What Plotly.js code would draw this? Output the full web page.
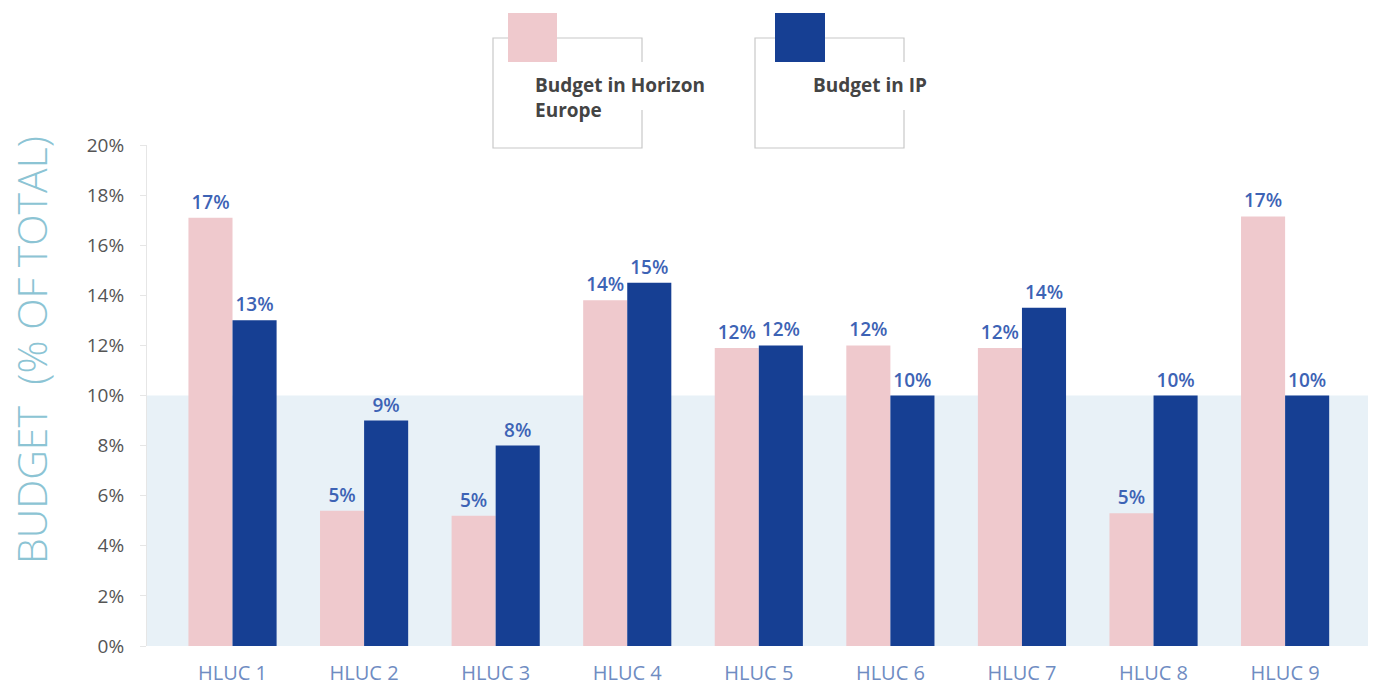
<!DOCTYPE html>
<html>
<head>
<meta charset="utf-8">
<script src="https://cdn.plot.ly/plotly-3.0.1.min.js"></script>
<style>
  html, body { margin: 0; padding: 0; background: #fff; }
  #chart { width: 1374px; height: 687px; }
</style>
</head>
<body>
<div id="chart"></div>
<script>
// data (% of total budget)
const categories = ['HLUC 1','HLUC 2','HLUC 3','HLUC 4','HLUC 5','HLUC 6','HLUC 7','HLUC 8','HLUC 9'];
const horizonEurope = [17.1, 5.4, 5.2, 13.8, 11.9, 12.0, 11.9, 5.3, 17.15];
const ip = [13.0, 9.0, 8.0, 14.5, 12.0, 10.0, 13.5, 10.0, 10.0];
const yTicks = [0, 2, 4, 6, 8, 10, 12, 14, 16, 18, 20];
const shadeTop = 10;

const pink = '#efc9cd';
const navy = '#163f93';
const labelBlue = '#3d63b5';

// plot area in pixels
const L = 147, R = 6, T = 145, B = 41, W = 1374, H = 687;
const pw = W - L - R, ph = H - T - B;
const px = x => (x - L) / pw;          // pixel -> paper x
const py = y => (H - B - y) / ph;      // pixel -> paper y

const label = v => Math.round(v) + '%';

const labelFont = {color: labelBlue, size: 19, family: 'Open Sans', weight: 600};

const traces = [
  {
    type: 'bar', name: 'Budget in Horizon Europe',
    x: categories, y: horizonEurope,
    marker: {color: pink},
    text: horizonEurope.map(label), textposition: 'outside',
    textfont: labelFont, cliponaxis: false, hoverinfo: 'x+y'
  },
  {
    type: 'bar', name: 'Budget in IP',
    x: categories, y: ip,
    marker: {color: navy},
    text: ip.map(label), textposition: 'outside',
    textfont: labelFont, cliponaxis: false, hoverinfo: 'x+y'
  }
];

// legend boxes drawn by hand
function legendBox(x0, x1, y0, y1, gapTop, gapBot, sqX0, sqX1, sqY0, sqY1, color) {
  const line = {color: '#c8c8c8', width: 1.2};
  return [
    {type: 'path', xref: 'paper', yref: 'paper', line,
     path: `M${px(x1)},${py(gapTop)} L${px(x1)},${py(y0)} L${px(x0)},${py(y0)} L${px(x0)},${py(y1)} L${px(x1)},${py(y1)} L${px(x1)},${py(gapBot)}`},
    {type: 'rect', xref: 'paper', yref: 'paper', line: {width: 0}, fillcolor: color,
     x0: px(sqX0), x1: px(sqX1), y0: py(sqY0), y1: py(sqY1)}
  ];
}

const shapes = [
  {type: 'rect', xref: 'paper', yref: 'y', x0: 0, x1: 1, y0: 0, y1: shadeTop,
   fillcolor: '#e8f1f7', line: {width: 0}, layer: 'below'},
  ...legendBox(493, 642, 38, 148, 62, 110, 508, 557, 13, 62, pink),
  ...legendBox(755, 904, 38, 148, 62, 110, 775, 825, 13, 62, navy)
];

const annotations = [
  {xref: 'paper', yref: 'paper', x: px(533), y: py(98), xanchor: 'left', yanchor: 'middle', align: 'left',
   showarrow: false, text: '<b>Budget in Horizon<br>Europe</b>',
   font: {family: 'Open Sans', size: 19, color: '#444'}},
  {xref: 'paper', yref: 'paper', x: px(811), y: py(85), xanchor: 'left', yanchor: 'middle',
   showarrow: false, text: '<b>Budget in IP</b>',
   font: {family: 'Open Sans', size: 19, color: '#444'}},
  {xref: 'paper', yref: 'paper', x: px(31), y: py(350), xanchor: 'center', yanchor: 'middle',
   textangle: -90, showarrow: false, text: 'BUDGET&nbsp; (% OF TOTAL)',
   font: {family: 'Open Sans', size: 41, color: '#8cc4d4', weight: 300}}
];

const layout = {
  width: W, height: H,
  margin: {l: L, r: R, t: T, b: B, pad: 0},
  paper_bgcolor: '#fff', plot_bgcolor: 'rgba(0,0,0,0)',
  barmode: 'group', bargap: 0.33, bargroupgap: 0,
  showlegend: false,
  font: {family: 'Open Sans', color: '#555'},
  xaxis: {
    type: 'category', range: [-0.65, 8.63],
    showline: false, showgrid: false, zeroline: false, ticks: '',
    tickfont: {size: 20, color: '#6f8cc2'}, ticklabelstandoff: 13
  },
  yaxis: {
    range: [0, 20], tickvals: yTicks, ticktext: yTicks.map(v => v + '%'),
    showgrid: false, zeroline: false,
    showline: true, linecolor: '#e6e6e6', linewidth: 1,
    ticks: 'outside', ticklen: 6, tickcolor: '#e6e6e6',
    tickfont: {size: 19, color: '#555'}, ticklabelstandoff: 12
  },
  shapes, annotations
};

Plotly.newPlot('chart', traces, layout, {displayModeBar: false, staticPlot: true});
</script>
</body>
</html>
